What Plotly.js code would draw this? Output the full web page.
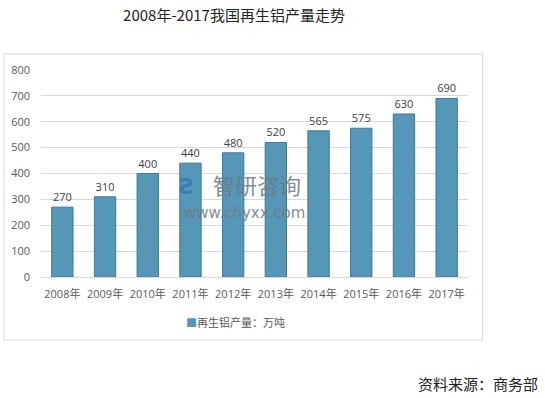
<!DOCTYPE html>
<html><head><meta charset="utf-8">
<script src="https://cdn.plot.ly/plotly-3.0.1.min.js"></script>
<style>html,body{margin:0;padding:0;background:#fff;}#c{width:545px;height:398px;}</style>
</head><body><div id="c"></div>
<script>
const categories = ["2008年","2009年","2010年","2011年","2012年","2013年","2014年","2015年","2016年","2017年"];
const production = [270,310,400,440,480,520,565,575,630,690];
const yTicks = [0,100,200,300,400,500,600,700,800];
const seriesName = "再生铝产量：万吨";
const titleText = "2008年-2017我国再生铝产量走势";
const sourceText = "资料来源：商务部";

const fontCJK = "Noto Sans CJK SC, sans-serif";
const fontNum = "Open Sans, Noto Sans CJK SC, sans-serif";
const L = 41, R = 76.5, T = 70, B = 121, W = 545, H = 398;
const pw = W - L - R, ph = H - T - B;
const px = x => (x - L) / pw;
const py = y => (H - B - y) / ph;
const barColor = "#5697b8";

const trace = {
  type: "bar", x: categories, y: production, name: seriesName,
  marker: {color: barColor, line: {color: "#3f7896", width: 1}},
  text: production.map(String), textposition: "outside",
  textfont: {family: fontNum, size: 11, color: "#404040"},
  cliponaxis: false, hoverinfo: "none", showlegend: false
};

const layout = {
  width: W, height: H,
  margin: {l: L, r: R, t: T, b: B},
  paper_bgcolor: "#fff", plot_bgcolor: "#fff",
  bargap: 0.5,
  showlegend: false,
  title: {text: titleText, x: 234/W, xanchor: "center", y: 1 - 16/H, yanchor: "middle",
    font: {family: fontCJK, size: 15, color: "#222"}},
  xaxis: {type: "category", showgrid: false, zeroline: false, showline: false, ticks: "",
    ticklabelstandoff: 9,
    tickfont: {family: fontNum, size: 11, color: "#595959"}, fixedrange: true},
  yaxis: {range: [0, 800], tickvals: yTicks, ticktext: yTicks.map(String), showgrid: true,
    gridcolor: "#d9d9d9", gridwidth: 1, zeroline: true, zerolinecolor: "#d9d9d9", showline: false,
    ticks: "", ticklabelstandoff: 10,
    tickfont: {family: fontNum, size: 11, color: "#595959"}, fixedrange: true},
  shapes: [
    {type: "rect", xref: "paper", yref: "paper", x0: px(4), x1: px(483), y0: py(340), y1: py(54),
      line: {color: "#d9d9d9", width: 1}, fillcolor: "rgba(0,0,0,0)", layer: "below"}
  ],
  annotations: [
    {xref: "paper", yref: "paper", x: px(184), y: py(322), xanchor: "left", yanchor: "middle",
      text: "<span style='color:" + barColor + "'>■</span>" + seriesName, showarrow: false,
      font: {family: fontCJK, size: 11, color: "#595959"}},
    {xref: "paper", yref: "paper", x: px(541), y: py(383), xanchor: "right", yanchor: "middle",
      text: sourceText, showarrow: false, font: {family: fontCJK, size: 15, color: "#222"}},
    {xref: "paper", yref: "paper", x: px(257), y: py(184), xanchor: "center", yanchor: "middle",
      text: "智研咨询", showarrow: false, opacity: 0.85,
      font: {family: fontCJK, size: 22, color: "#6f7a86"}},
    {xref: "paper", yref: "paper", x: px(245), y: py(213), xanchor: "center", yanchor: "middle",
      text: "www.chyxx.com", showarrow: false, opacity: 0.85,
      font: {family: "DejaVu Sans, sans-serif", size: 15, color: "#6f7a86"}},
    {xref: "paper", yref: "paper", x: px(187), y: py(186), xanchor: "center", yanchor: "middle",
      text: "<b>Ƨ</b>", showarrow: false, opacity: 0.65,
      font: {family: "DejaVu Sans, sans-serif", size: 22, color: "#2f6fb0"}}
  ]
};

Plotly.newPlot("c", [trace], layout, {displayModeBar: false, staticPlot: true});
</script></body></html>
